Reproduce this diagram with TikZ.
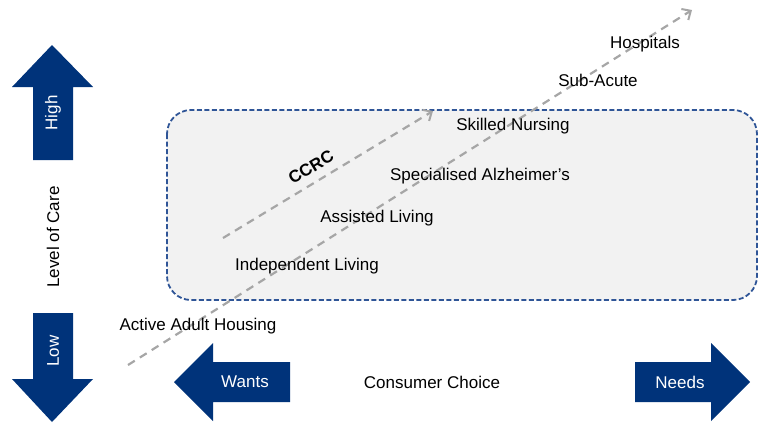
\documentclass[tikz,border=0pt]{standalone}
\usepackage{fontspec}
\setmainfont{Liberation Sans}
\usetikzlibrary{arrows.meta}
\definecolor{navy}{HTML}{00337A}
\definecolor{boxline}{HTML}{2F5597}
\definecolor{boxfill}{HTML}{F2F2F2}
\definecolor{dashgray}{HTML}{A6A6A6}
\tikzset{
  lbl/.style={font=\fontsize{17}{20}\selectfont, inner sep=0pt},
  wlbl/.style={lbl, text=white},
  bigarrow/.style={fill=navy, draw=none},
  trend/.style={draw=dashgray, line width=2.2pt, dash pattern=on 8pt off 6pt,
    -{Straight Barb[length=7pt,width=13pt,line width=2pt]}},
}
\begin{document}
\begin{tikzpicture}[x=1pt,y=-1pt]
\useasboundingbox (0,0) rectangle (761,423);
% CCRC box
\draw[boxline, fill=boxfill, line width=1.8pt, dash pattern=on 5pt off 2.5pt, rounded corners=24pt]
  (167,110) rectangle (757,300);
% vertical arrows
\fill[bigarrow] (52,45) -- (93,87) -- (73,87) -- (73,160) -- (33,160) -- (33,87) -- (12,87) -- cycle;
\fill[bigarrow] (52,422) -- (93,379) -- (73,379) -- (73,313) -- (33,313) -- (33,379) -- (12,379) -- cycle;
% horizontal arrows
\fill[bigarrow] (174,382) -- (213,343) -- (213,362) -- (290,362) -- (290,402) -- (213,402) -- (213,421) -- cycle;
\fill[bigarrow] (750,382) -- (711,343) -- (711,362) -- (635,362) -- (635,402) -- (711,402) -- (711,421) -- cycle;
% labels on arrows
\node[wlbl, rotate=90] (high) at (53,113) {High};
\node[wlbl, rotate=90] (low) at (53,351) {Low};
\node[lbl, rotate=90] (loc) at (53,237) {Level of Care};
\node[wlbl] (wants) at (245,382) {Wants};
\node[wlbl] (needs) at (680,382) {Needs};
\node[lbl] (cc) at (432,382) {Consumer Choice};
% trend arrows
\coordinate (m0) at (128,365);
\coordinate (m1) at (692,10);
\coordinate (c0) at (223,238);
\coordinate (c1) at (433,111);
\draw[trend] (m0) -- (m1);
\draw[trend] (c0) -- (c1);
% stage labels
\node[lbl] (hosp) at (645,44) {Hospitals};
\node[lbl] (sub) at (598,80) {Sub-Acute};
\node[lbl] (skn) at (513,126) {Skilled Nursing};
\node[lbl] (alz) at (480,176) {Specialised Alzheimer's};
\node[lbl] (asl) at (377,218) {Assisted Living};
\node[lbl] (ind) at (307,266) {Independent Living};
\node[lbl] (aah) at (198,326) {Active Adult Housing};
\node[lbl, font=\fontsize{17}{20}\selectfont\bfseries, rotate=31] (ccrc) at (311,167) {CCRC};
\end{tikzpicture}
\end{document}
